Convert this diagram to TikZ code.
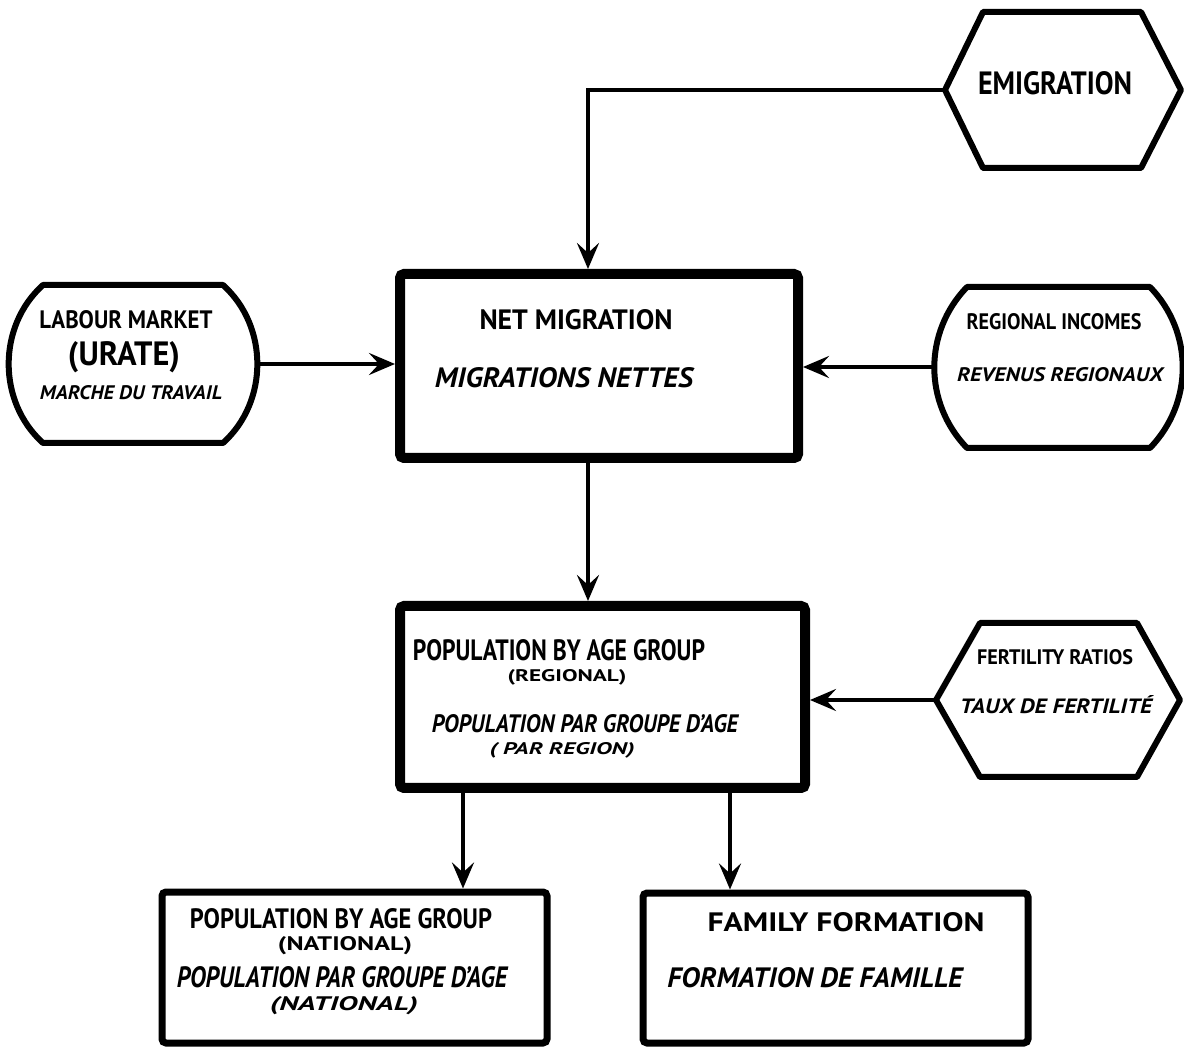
\documentclass[tikz,border=0pt]{standalone}
\usepackage{fontspec}
\setmainfont{PT Sans}
\usepackage{graphicx}
\usetikzlibrary{arrows.meta}
\usetikzlibrary{fit}
\newdimen\pxu \pxu=0.5pt
\newcommand{\fitlab}[3]{\resizebox{#1\pxu}{#2\pxu}{#3}}

\begin{document}
\begin{tikzpicture}[x=0.5pt,y=-0.5pt,
  heavybox/.style={draw, line width=5pt, rounded corners=2pt, inner sep=0pt},
  lightbox/.style={draw, line width=3.5pt, rounded corners=2pt, inner sep=0pt},
  outline/.style={line width=3pt, line join=round},
  link/.style={line width=2.2pt, -{Stealth[length=13pt,width=11pt,inset=5pt]}},
  lab/.style={inner sep=0pt, font=\bfseries},
  frlab/.style={inner sep=0pt, font=\bfseries\itshape}]
\useasboundingbox (0,0) rectangle (1184,1047);

% boxes
\node[heavybox, fit={(400,274) (798,458)}] (net) {};
\node[heavybox, fit={(400,606) (805,788)}] (pop) {};
\node[lightbox, fit={(162,892) (547,1043)}] (nat) {};
\node[lightbox, fit={(643,893) (1028,1043)}] (fam) {};

% side shapes
\draw[outline] (945,90) -- (983,12) -- (1141,12) -- (1181,90) -- (1141,168) -- (983,168) -- cycle;
\coordinate (emig) at (945,90);
\draw[outline] (936,700) -- (980,623) -- (1137,623) -- (1180,700) -- (1137,777) -- (980,777) -- cycle;
\coordinate (fert) at (936,700);
\draw[outline] (43,285) -- (223,285) to[bend left=48] (223,443) -- (43,443) to[bend left=48] (43,285) -- cycle;
\coordinate (labour) at (257,364);
\draw[outline] (967,287) -- (1150,287) to[bend left=44] (1150,448) -- (967,448) to[bend left=44] (967,287) -- cycle;
\coordinate (incomes) at (935,367);

% texts
\node[lab] (emigtxt) at (1055,83) {\fitlab{154}{23}{EMIGRATION}};
\node[lab] (nettxt) at (576,320) {\fitlab{193}{20}{NET MIGRATION}};
\node[frlab] (netfr) at (564,378) {\fitlab{258}{20}{MIGRATIONS NETTES}};
\node[lab] (labtxt) at (126,320) {\fitlab{173}{18}{LABOUR MARKET}};
\node[lab] (uratetxt) at (124,357) {\fitlab{112}{24}{(URATE)}};
\node[frlab] (labfr) at (131,393) {\fitlab{182}{14}{MARCHE DU TRAVAIL}};
\node[lab] (inctxt) at (1054,322) {\fitlab{175}{16}{REGIONAL INCOMES}};
\node[frlab] (incfr) at (1060,375) {\fitlab{206}{14}{REVENUS REGIONAUX}};
\node[lab] (poptxt) at (559,650) {\fitlab{292}{21}{POPULATION BY AGE GROUP}};
\node[lab] (popsub) at (567,677) {\fitlab{119}{12}{(REGIONAL)}};
\node[frlab] (popfr) at (585,724) {\fitlab{306}{18}{POPULATION PAR GROUPE D'AGE}};
\node[frlab] (popfrsub) at (562,750) {\fitlab{145}{12}{( PAR REGION)}};
\node[lab] (ferttxt) at (1055,657) {\fitlab{156}{15}{FERTILITY RATIOS}};
\node[frlab] (fertfr) at (1056,705) {\fitlab{192}{18}{TAUX DE FERTILITÉ}};
\node[lab] (nattxt) at (341,919) {\fitlab{302}{20}{POPULATION BY AGE GROUP}};
\node[lab] (natsub) at (345,946) {\fitlab{134}{14}{(NATIONAL)}};
\node[frlab] (natfr) at (342,977) {\fitlab{330}{21}{POPULATION PAR GROUPE D'AGE}};
\node[frlab] (natfrsub) at (344,1006) {\fitlab{148}{14}{(NATIONAL)}};
\node[lab] (famtxt) at (846,922) {\fitlab{277}{19}{FAMILY FORMATION}};
\node[frlab] (famfr) at (815,978) {\fitlab{295}{20}{FORMATION DE FAMILLE}};

% connectors
\coordinate (ax1) at (588,0);
\coordinate (ax2) at (463,0);
\coordinate (ax3) at (730,0);
\draw[link] (emig) -| (net.north -| ax1);
\draw[link] (labour) -- (labour -| net.west);
\draw[link] (incomes) -- (incomes -| net.east);
\draw[link] (net.south -| ax1) -- (pop.north -| ax1);
\draw[link] (fert) -- (fert -| pop.east);
\draw[link] (pop.south -| ax2) -- (nat.north -| ax2);
\draw[link] (pop.south -| ax3) -- (fam.north -| ax3);

\end{tikzpicture}
\end{document}
